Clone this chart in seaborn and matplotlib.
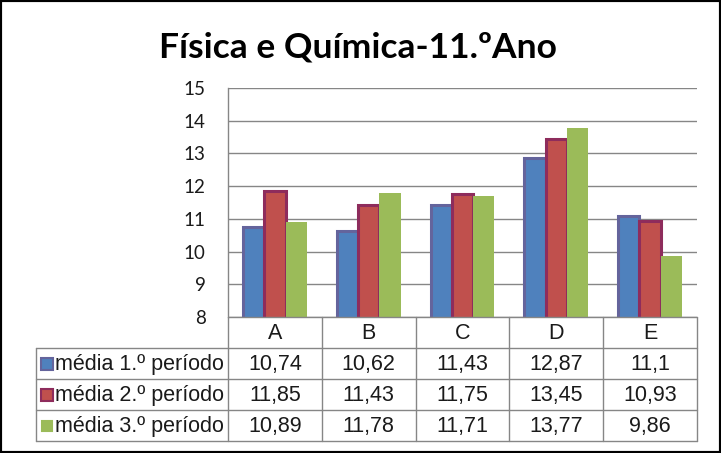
import matplotlib
matplotlib.use('Agg')
import matplotlib.pyplot as plt
import seaborn as sns
import pandas as pd
from matplotlib.patches import Rectangle

categories = ['A', 'B', 'C', 'D', 'E']
series = ['média 1.º período', 'média 2.º período', 'média 3.º período']
media1 = [10.74, 10.62, 11.43, 12.87, 11.1]
media2 = [11.85, 11.43, 11.75, 13.45, 10.93]
media3 = [10.89, 11.78, 11.71, 13.77, 9.86]
yticks = [8, 9, 10, 11, 12, 13, 14, 15]
title = 'Física e Química-11.ºAno'

colors = ['#4F81BD', '#C0504D', '#9BBB59']
edges = ['#64649C', '#8E2C5C', None]

df = pd.DataFrame({
    'cat': categories * 3,
    'serie': [s for s in series for _ in categories],
    'valor': media1 + media2 + media3,
})

sns.set_style('white')
W, H = 721, 453
fig = plt.figure(figsize=(W / 100, H / 100), dpi=100)

ax = fig.add_axes([228 / W, (H - 317) / H, (697 - 228) / W, (317 - 88) / H])
sns.barplot(data=df, x='cat', y='valor', hue='serie', palette=colors,
            width=0.68, ax=ax, legend=False, saturation=1, errorbar=None)
for cont, ec in zip(ax.containers, edges):
    for bar in cont:
        if ec:
            bar.set_edgecolor(ec)
            bar.set_linewidth(2.2)
        else:
            bar.set_linewidth(0)

ax.set_ylim(8, 15)
ax.set_yticks(yticks)
ax.set_xlim(-0.5, 4.5)
ax.yaxis.grid(True, color='#868686', lw=1)
ax.set_axisbelow(True)
ax.set_xlabel('')
ax.set_ylabel('')
ax.set_xticks([])
ax.tick_params(axis='y', length=0, pad=16, labelsize=13.5, labelcolor='#1a1a1a')
for t in ax.get_yticklabels():
    t.set_family('Lato')
for s in ['top', 'right', 'bottom']:
    ax.spines[s].set_visible(False)
ax.spines['left'].set_color('#868686')
ax.spines['left'].set_linewidth(1)

# data table
colw = (697 - 228) / 5
xl = -0.5 - (228 - 36) / colw
tax = fig.add_axes([36 / W, (H - 441) / H, (697 - 36) / W, 124 / H])
tax.set_xlim(xl, 4.5)
tax.set_ylim(4, 0)
tax.axis('off')
gc = '#868686'
tax.plot([-0.5, 4.5], [0, 0], color=gc, lw=1, clip_on=False)
for r in [1, 2, 3, 4]:
    tax.plot([xl, 4.5], [r, r], color=gc, lw=1, clip_on=False)
tax.plot([xl, xl], [1, 4], color=gc, lw=1, clip_on=False)
for i in range(6):
    tax.plot([i - 0.5, i - 0.5], [0, 4], color=gc, lw=1, clip_on=False)

tfont = dict(family='Liberation Sans', fontsize=15.5, color='#1a1a1a')
for i, c in enumerate(categories):
    tax.text(i, 0.52, c, ha='center', va='center', **tfont)
for r, (name, vals) in enumerate(zip(series, [media1, media2, media3]), start=1):
    for i, v in enumerate(vals):
        tax.text(i, r + 0.52, f'{v:g}'.replace('.', ','), ha='center', va='center', **tfont)
    ks = 12 if edges[r - 1] else 10
    kx = xl + (5 + (12 - ks) / 2) / colw
    tax.add_patch(Rectangle((kx, r + 0.5 - ks / 2 / 31), ks / colw, ks / 31,
                            facecolor=colors[r - 1],
                            edgecolor=edges[r - 1] or colors[r - 1], lw=1.5))
    tax.text(xl + 19 / colw, r + 0.52, name, ha='left', va='center', **tfont)

fig.text(0.497, 1 - 48 / H, title, ha='center', va='center', fontsize=25.5,
         fontweight='bold', family='Lato', color='black')

fig.patches.append(Rectangle((0, 0), 1, 1, transform=fig.transFigure,
                             fill=False, edgecolor='black', lw=3))

fig.savefig('out.png', dpi=100)
